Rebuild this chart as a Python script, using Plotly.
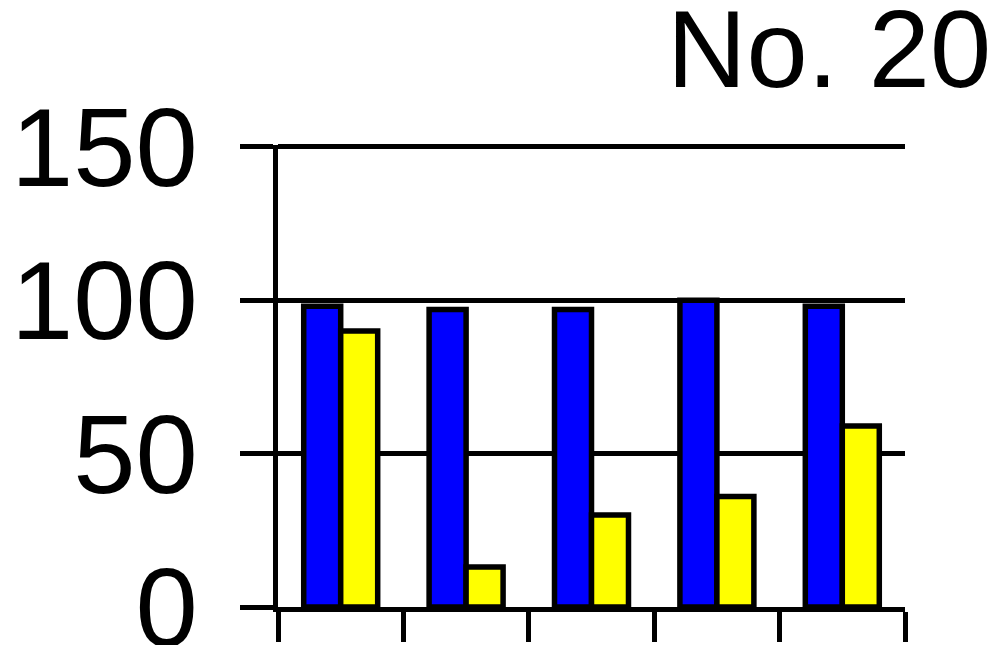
import plotly.graph_objects as go

categories = ["1", "2", "3", "4", "5"]
series_blue = [98, 97, 97, 100, 98]
series_yellow = [90, 13, 30, 36, 59]
y_ticks = [0, 50, 100, 150]
title_text = "No. 20"

FONT = "Liberation Sans, Arial, Helvetica, sans-serif"

fig = go.Figure()
fig.add_trace(go.Bar(x=categories, y=series_blue, name="A",
                     marker=dict(color="#0000FF", line=dict(color="black", width=5.5))))
fig.add_trace(go.Bar(x=categories, y=series_yellow, name="B",
                     marker=dict(color="#FFFF00", line=dict(color="black", width=5.5))))

# page body has an 8px margin, so the figure is sized to fit the window
fig.update_layout(
    width=987, height=637,
    margin=dict(l=270, r=90, t=137, b=38, pad=0),
    paper_bgcolor="white", plot_bgcolor="white",
    barmode="group", bargap=0.41, bargroupgap=0,
    showlegend=False,
    font=dict(family=FONT, color="black"),
)
fig.update_xaxes(
    showgrid=False, showline=True, linecolor="black", linewidth=4.5,
    ticks="outside", ticklen=30, tickwidth=4.5, tickcolor="black",
    tickson="boundaries", showticklabels=False, zeroline=False,
    automargin=False,
)
fig.update_yaxes(
    range=[0, 150.6], tickvals=y_ticks, ticktext=[str(v) for v in y_ticks],
    showgrid=True, gridcolor="black", gridwidth=4.5,
    showline=True, linecolor="black", linewidth=4.5,
    ticks="outside", ticklen=33, tickwidth=4.5, tickcolor="black",
    tickfont=dict(size=112, family=FONT, color="black"),
    ticklabelstandoff=20, ticklabeloverflow="allow",
    zeroline=False, automargin=False,
)
fig.add_annotation(
    text=title_text, xref="paper", yref="paper",
    x=(985 - 270) / (987 - 270 - 90), y=1.0, xanchor="right", yanchor="bottom",
    yshift=33, showarrow=False,
    font=dict(size=110, family=FONT, color="black"),
)
fig.write_html("out.html")
